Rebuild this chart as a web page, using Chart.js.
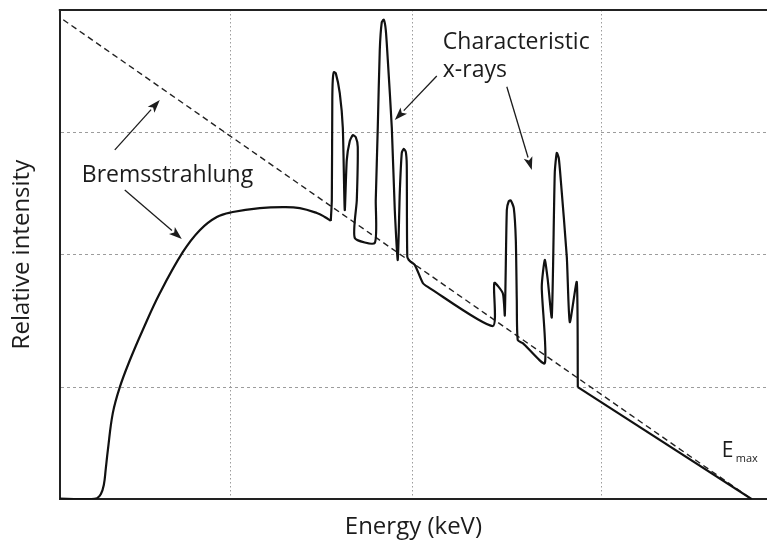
<!DOCTYPE html>
<html>
<head>
<meta charset="utf-8">
<script src="https://cdn.jsdelivr.net/npm/chart.js@4.4.1/dist/chart.umd.min.js"></script>
<style>
  body { margin: 0; background: #fff; }
</style>
</head>
<body>
<canvas id="spectrum" width="767" height="542"></canvas>
<script>
// Energy axis in arbitrary units, 0 .. Emax = 100; intensity 0 .. 100
// smooth bremsstrahlung hump
const humpE = [
    0, 2.89, 4.34, 5.35, 5.92, 6.36, 6.65, 6.94, 7.66, 8.67, 10.12, 11.99, 14.45, 17.77,
    20.23, 22.69, 25.0, 28.9, 32.23, 34.68, 37.14, 38.29, 39.16
];
const humpI = [
    0.1, 0, 0, 0.2, 1.0, 2.9, 6.3, 10.0, 17.6, 22.9, 28.4, 34.6, 42.1, 50.5,
    55.0, 57.7, 58.7, 59.5, 59.7, 59.5, 58.5, 57.7, 56.9
];
// middle of the spectrum with the characteristic lines
const linesE = [
    39.16, 39.31, 39.38, 39.45, 39.6, 39.88, 40.46, 40.9, 41.18,
    41.47, 41.91, 42.34, 42.77, 43.06, 42.92, 42.63,
    45.52, 45.66, 45.95, 46.24, 46.53, 46.82, 47.11, 47.4, 47.98, 48.41, 48.84,
    49.13, 49.42, 49.71, 50.0, 50.14, 50.22, 50.58, 51.3, 52.46, 53.18, 62.57,
    62.79, 64.02, 64.31,
    64.6, 64.88, 65.17, 65.61, 65.9, 66.04, 66.18, 66.91, 70.09,
    69.65, 70.09, 70.52, 71.1,
    71.53, 71.82, 72.11, 72.4, 73.27, 73.7, 74.71, 74.86
];
const linesI = [
    56.9, 61.1, 81.6, 85.7, 87.3, 87.1, 83.0, 75.9, 59.1,
    69.3, 73.2, 74.4, 74.0, 72.0, 61.1, 53.4,
    52.4, 61.1, 75.9, 91.8, 97.5, 98.0, 95.9, 89.8, 75.9, 59.1, 48.9,
    62.6, 70.8, 71.6, 71.0, 68.3, 49.5, 48.7, 47.9, 44.2, 43.4, 35.4,
    44.2, 42.1, 37.6,
    59.1, 60.9, 61.1, 59.5, 53.0, 40.7, 32.5, 31.9, 27.8,
    43.4, 48.9, 44.8, 37.2,
    66.7, 70.8, 69.7, 65.2, 49.5, 36.2, 44.4, 22.9
];
// straight high-energy tail down to Emax
const tailE = [74.86, 100];
const tailI = [22.9, 0];
// Unfiltered (Kramers) line
const kramersE = [0.5, 100];
const kramersI = [98, 0];

// gridline positions
const xGrid = [24.7, 51.0, 78.3];
const yGrid = [22.9, 50.0, 75.0];

const fontFamily = "'Open Sans', 'Noto Sans', sans-serif";
const ink = '#1c1c1c';

// labels and arrows, in data units
const notes = [
    { text: 'Bremsstrahlung', x: 3.18, y: 64.8, size: 23 },
    { text: 'Characteristic', x: 55.35, y: 92.0, size: 23 },
    { text: 'x-rays', x: 55.35, y: 86.3, size: 23 },
    { text: 'E', x: 95.66, y: 8.6, size: 21 },
    { text: 'max', x: 97.69, y: 7.6, size: 11 }
];
const arrows = [
    { from: [7.95, 71.4], to: [14.45, 81.6] },
    { from: [9.39, 63.2], to: [17.63, 53.2] },
    { from: [54.48, 86.5], to: [48.41, 77.5] },
    { from: [64.6, 84.3], to: [68.21, 67.3] }
];

const ctx = document.getElementById('spectrum').getContext('2d');

// draws the top frame line, the annotation texts and arrows
const annotate = {
    id: 'annotate',
    afterDraw(chart) {
        const c = chart.ctx;
        const xs = chart.scales.x;
        const ys = chart.scales.y;
        const area = chart.chartArea;
        c.save();
        c.strokeStyle = '#222';
        c.lineWidth = 2;
        c.beginPath();
        c.moveTo(area.left - 1, area.top);
        c.lineTo(area.right, area.top);
        c.stroke();

        c.fillStyle = ink;
        c.textBaseline = 'alphabetic';
        c.textAlign = 'left';
        notes.forEach(n => {
            c.font = n.size + 'px ' + fontFamily;
            c.fillText(n.text, xs.getPixelForValue(n.x), ys.getPixelForValue(n.y));
        });

        c.strokeStyle = ink;
        c.lineWidth = 1.3;
        arrows.forEach(a => {
            const x1 = xs.getPixelForValue(a.from[0]);
            const y1 = ys.getPixelForValue(a.from[1]);
            const x2 = xs.getPixelForValue(a.to[0]);
            const y2 = ys.getPixelForValue(a.to[1]);
            const ang = Math.atan2(y2 - y1, x2 - x1);
            const len = 13, half = 4.5;
            const bx = x2 - len * Math.cos(ang);
            const by = y2 - len * Math.sin(ang);
            c.beginPath();
            c.moveTo(x1, y1);
            c.lineTo(bx, by);
            c.stroke();
            c.beginPath();
            c.moveTo(x2, y2);
            c.lineTo(bx + half * Math.sin(ang), by - half * Math.cos(ang));
            c.lineTo(bx + 3 * Math.cos(ang), by + 3 * Math.sin(ang));
            c.lineTo(bx - half * Math.sin(ang), by + half * Math.cos(ang));
            c.closePath();
            c.fill();
        });
        c.restore();
    }
};

const toPoints = (xs, ys) => xs.map((e, i) => ({ x: e, y: ys[i] }));

const solid = (label, pts, tension) => ({
    label: label,
    data: pts,
    borderColor: '#111',
    borderWidth: 2.2,
    pointRadius: 0,
    tension: tension,
    fill: false,
    order: 1
});

new Chart(ctx, {
    type: 'line',
    data: {
        datasets: [
            solid('Bremsstrahlung', toPoints(humpE, humpI), 0.4),
            solid('Characteristic', toPoints(linesE, linesI), 0.2),
            solid('Tail', toPoints(tailE, tailI), 0),
            {
                label: 'Kramers',
                data: toPoints(kramersE, kramersI),
                borderColor: '#222',
                borderWidth: 1.4,
                borderDash: [6, 4],
                pointRadius: 0,
                fill: false,
                order: 2
            }
        ]
    },
    options: {
        responsive: false,
        animation: false,
        layout: { padding: { top: 10, left: 0, right: 0, bottom: 0 } },
        plugins: {
            legend: { display: false },
            tooltip: { enabled: false }
        },
        scales: {
            x: {
                type: 'linear',
                min: 0,
                max: 102.2,
                afterBuildTicks: (scale) => { scale.ticks = xGrid.map(v => ({ value: v })); },
                ticks: { display: false },
                grid: { color: '#9c9c9c', lineWidth: 1, drawTicks: false },
                border: { color: '#222', width: 2, dash: [1.5, 2.5] },
                title: {
                    display: true,
                    text: 'Energy (keV)',
                    color: ink,
                    font: { family: fontFamily, size: 24 },
                    padding: { top: 14, bottom: 0 }
                }
            },
            y: {
                type: 'linear',
                min: 0,
                max: 100,
                afterBuildTicks: (scale) => { scale.ticks = yGrid.map(v => ({ value: v })); },
                ticks: { display: false },
                grid: { color: '#9c9c9c', lineWidth: 1, drawTicks: false },
                border: { color: '#222', width: 2, dash: [3, 3] },
                title: {
                    display: true,
                    text: 'Relative intensity',
                    color: ink,
                    font: { family: fontFamily, size: 24 },
                    padding: { top: 8, bottom: 23 }
                }
            }
        }
    },
    plugins: [annotate]
});
</script>
</body>
</html>
